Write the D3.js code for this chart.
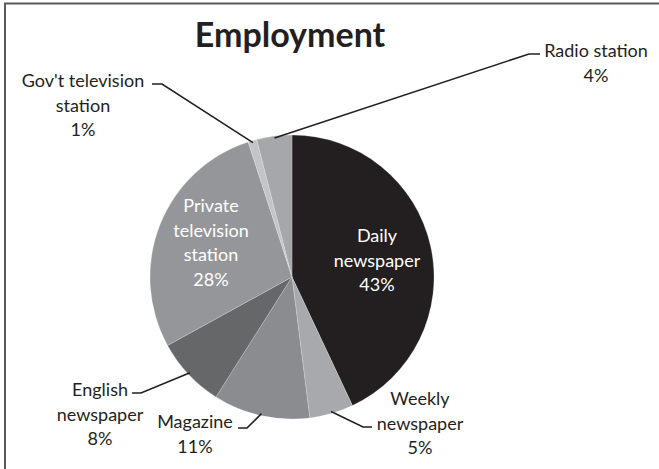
<!DOCTYPE html>
<html>
<head>
<meta charset="utf-8">
<script src="https://cdn.jsdelivr.net/npm/d3@7"></script>
<style>
  html, body { margin: 0; padding: 0; background: #fff; }
  svg { display: block; font-family: Lato, "Open Sans", sans-serif; }
</style>
</head>
<body>
<svg id="chart" width="659" height="469"></svg>
<script>
// Employment by media type (share of respondents, %)
const categories = [
  "Daily newspaper",
  "Weekly newspaper",
  "Magazine",
  "English newspaper",
  "Private television station",
  "Gov't television station",
  "Radio station"
];
const values = [43, 5, 11, 8, 28, 1, 4];
const chartTitle = "Employment";

// Greyscale fills, one per slice in drawing order
const palette = ["#231f20", "#a7a9ac", "#8b8c8f", "#666769", "#959699", "#c3c4c6", "#a5a7aa"];

// Label placement: text lines, anchor, and leader-line path (elbow / end)
const labelLayout = {
  "Daily newspaper":            { lines: ["Daily", "newspaper"], x: 377, y: 242, inside: true },
  "Private television station": { lines: ["Private", "television", "station"], x: 211, y: 212, inside: true },
  "Weekly newspaper":           { lines: ["Weekly", "newspaper"], x: 420, y: 405, elbow: [363, 427], end: [372, 427] },
  "Magazine":                   { lines: ["Magazine"], x: 195, y: 428, elbow: [247, 428], end: [238, 428] },
  "English newspaper":          { lines: ["English", "newspaper"], x: 100, y: 396, elbow: [141, 393], end: [132, 393] },
  "Gov't television station":   { lines: ["Gov't television", "station"], x: 83, y: 87, elbow: [162, 84], end: [152, 84] },
  "Radio station":              { lines: ["Radio station"], x: 596, y: 57, elbow: [529, 54], end: [540, 54] }
};

const svg = d3.select("#chart");
const W = 659, H = 469;
const cx = 292, cy = 277, R = 142;
const lineH = 24.5;

// Frame (top and left edges)
svg.append("path")
  .attr("d", `M5,${H} L5,3.5 L${W},3.5`)
  .attr("fill", "none")
  .attr("stroke", "#5a5a5a")
  .attr("stroke-width", 2);

svg.append("text")
  .attr("x", 290).attr("y", 47)
  .attr("text-anchor", "middle")
  .attr("font-size", 34)
  .attr("font-weight", 700)
  .attr("fill", "#231f20")
  .text(chartTitle);

const data = categories.map((c, i) => ({ name: c, value: values[i] }));
const color = d3.scaleOrdinal().domain(categories).range(palette);

const pie = d3.pie().value(d => d.value).sort(null);
const arcs = pie(data);
const arc = d3.arc().innerRadius(0).outerRadius(R);

const g = svg.append("g").attr("transform", `translate(${cx},${cy})`);

g.selectAll("path.slice")
  .data(arcs)
  .enter().append("path")
  .attr("class", "slice")
  .attr("d", arc)
  .attr("fill", d => color(d.data.name))
  .attr("stroke", "#ffffff")
  .attr("stroke-opacity", 0.35)
  .attr("stroke-width", 0.6);

// Leader lines for labels placed outside the pie
arcs.forEach(d => {
  const L = labelLayout[d.data.name];
  if (L.inside) return;
  const a = (d.startAngle + d.endAngle) / 2;
  const px = cx + Math.sin(a) * (R - 2);
  const py = cy - Math.cos(a) * (R - 2);
  svg.append("polyline")
    .attr("points", [[px, py], L.elbow, L.end].map(p => p.join(",")).join(" "))
    .attr("fill", "none")
    .attr("stroke", "#231f20")
    .attr("stroke-width", 1.6);
});

// Labels: category lines followed by the percentage
arcs.forEach(d => {
  const L = labelLayout[d.data.name];
  const t = svg.append("text")
    .attr("text-anchor", "middle")
    .attr("font-size", 18)
    .attr("fill", L.inside ? "#ffffff" : "#231f20");
  const rows = L.lines.concat([d.data.value + "%"]);
  rows.forEach((r, i) => {
    t.append("tspan").attr("x", L.x).attr("y", L.y + i * lineH).text(r);
  });
});
</script>
</body>
</html>
